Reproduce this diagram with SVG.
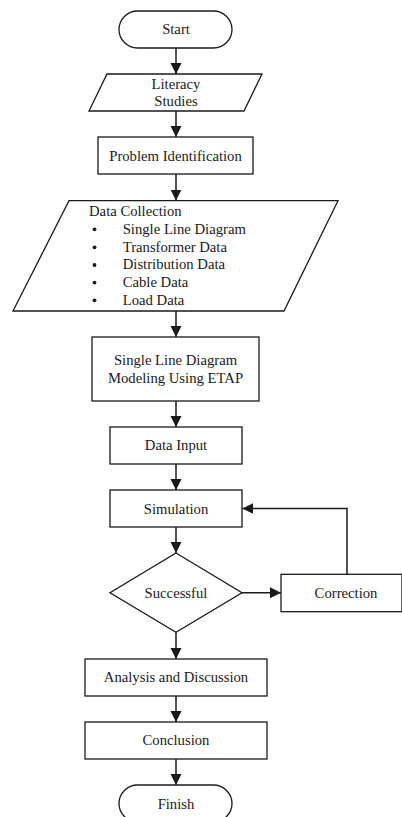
<svg xmlns="http://www.w3.org/2000/svg" width="402" height="817" viewBox="0 0 402 817">
<style>
.s{fill:#fff;stroke:#1a1a1a;stroke-width:1.3}
text{font-family:'Liberation Serif',serif;font-size:14.7px;fill:#1a1a1a}
.c{text-anchor:middle}
.e{fill:none;stroke:#1a1a1a;stroke-width:1.5}
</style>
<defs>
<marker id="ah" markerUnits="userSpaceOnUse" markerWidth="12" markerHeight="12" viewBox="0 0 12 12" refX="11" refY="6" orient="auto">
<path d="M0,0.5 L11,6 L0,11.5 Z" fill="#1a1a1a"/>
</marker>
</defs>
<rect width="402" height="817" fill="#fff"/>
<g id="connectors">
<line class="e" x1="176" y1="48" x2="176" y2="74" marker-end="url(#ah)"/>
<line class="e" x1="176" y1="111" x2="176" y2="137" marker-end="url(#ah)"/>
<line class="e" x1="176" y1="174" x2="176" y2="200.5" marker-end="url(#ah)"/>
<line class="e" x1="176" y1="311" x2="176" y2="337" marker-end="url(#ah)"/>
<line class="e" x1="176" y1="401" x2="176" y2="427" marker-end="url(#ah)"/>
<line class="e" x1="176" y1="464" x2="176" y2="490" marker-end="url(#ah)"/>
<line class="e" x1="176" y1="527" x2="176" y2="553" marker-end="url(#ah)"/>
<line class="e" x1="242" y1="592.7" x2="281" y2="592.7" marker-end="url(#ah)"/>
<polyline class="e" points="347,574.3 347,508.5 242.3,508.5" marker-end="url(#ah)"/>
<line class="e" x1="176" y1="632.3" x2="176" y2="659" marker-end="url(#ah)"/>
<line class="e" x1="176" y1="696" x2="176" y2="722" marker-end="url(#ah)"/>
<line class="e" x1="176" y1="759" x2="176" y2="785" marker-end="url(#ah)"/>
</g>
<g id="start">
<rect class="s" x="119" y="11" width="113" height="37" rx="18.5"/>
<text class="c" font-family="Liberation Serif, serif" x="176" y="34">Start</text>
</g>
<g id="literacy">
<polygon class="s" points="107,74 262,74 244,111 89,111"/>
<text class="c" x="176" y="88.5">Literacy</text>
<text class="c" x="176" y="105.5">Studies</text>
</g>
<g id="problem">
<rect class="s" x="98" y="137" width="155" height="37"/>
<text class="c" x="175.5" y="160.5">Problem Identification</text>
</g>
<g id="datacollection">
<polygon class="s" points="69,200.7 338,200.7 284,311 13,311"/>
<text x="89" y="215.7">Data Collection</text>
<g>
<circle cx="94.5" cy="229.3" r="1.9" fill="#1a1a1a"/>
<circle cx="94.5" cy="247.3" r="1.9" fill="#1a1a1a"/>
<circle cx="94.5" cy="265" r="1.9" fill="#1a1a1a"/>
<circle cx="94.5" cy="282.6" r="1.9" fill="#1a1a1a"/>
<circle cx="94.5" cy="300.3" r="1.9" fill="#1a1a1a"/>
</g>
<text x="122.7" y="233.5">Single Line Diagram</text>
<text x="122.7" y="251.5">Transformer Data</text>
<text x="122.7" y="269.2">Distribution Data</text>
<text x="122.7" y="286.8">Cable Data</text>
<text x="122.7" y="304.5">Load Data</text>
</g>
<g id="modeling">
<rect class="s" x="92" y="337" width="167" height="64"/>
<text class="c" x="175.5" y="365">Single Line Diagram</text>
<text class="c" x="175.5" y="383.3">Modeling Using ETAP</text>
</g>
<g id="datainput">
<rect class="s" x="110" y="427" width="132" height="37"/>
<text class="c" x="176" y="450">Data Input</text>
</g>
<g id="simulation">
<rect class="s" x="110" y="490" width="132" height="37"/>
<text class="c" x="176" y="513.5">Simulation</text>
</g>
<g id="successful">
<polygon class="s" points="176,553 242,592.7 176,632.3 110,592.7"/>
<text class="c" x="176" y="597.5">Successful</text>
</g>
<g id="correction">
<rect class="s" x="281" y="574.3" width="121" height="37.4"/>
<text class="c" x="346" y="597.5">Correction</text>
</g>
<g id="analysis">
<rect class="s" x="85" y="659" width="182" height="37"/>
<text class="c" x="176" y="682">Analysis and Discussion</text>
</g>
<g id="conclusion">
<rect class="s" x="85" y="722" width="182" height="37"/>
<text class="c" x="176" y="745">Conclusion</text>
</g>
<g id="finish">
<rect class="s" x="119" y="785" width="113" height="37" rx="18.5"/>
<text class="c" x="176" y="808.5">Finish</text>
</g>
</svg>
